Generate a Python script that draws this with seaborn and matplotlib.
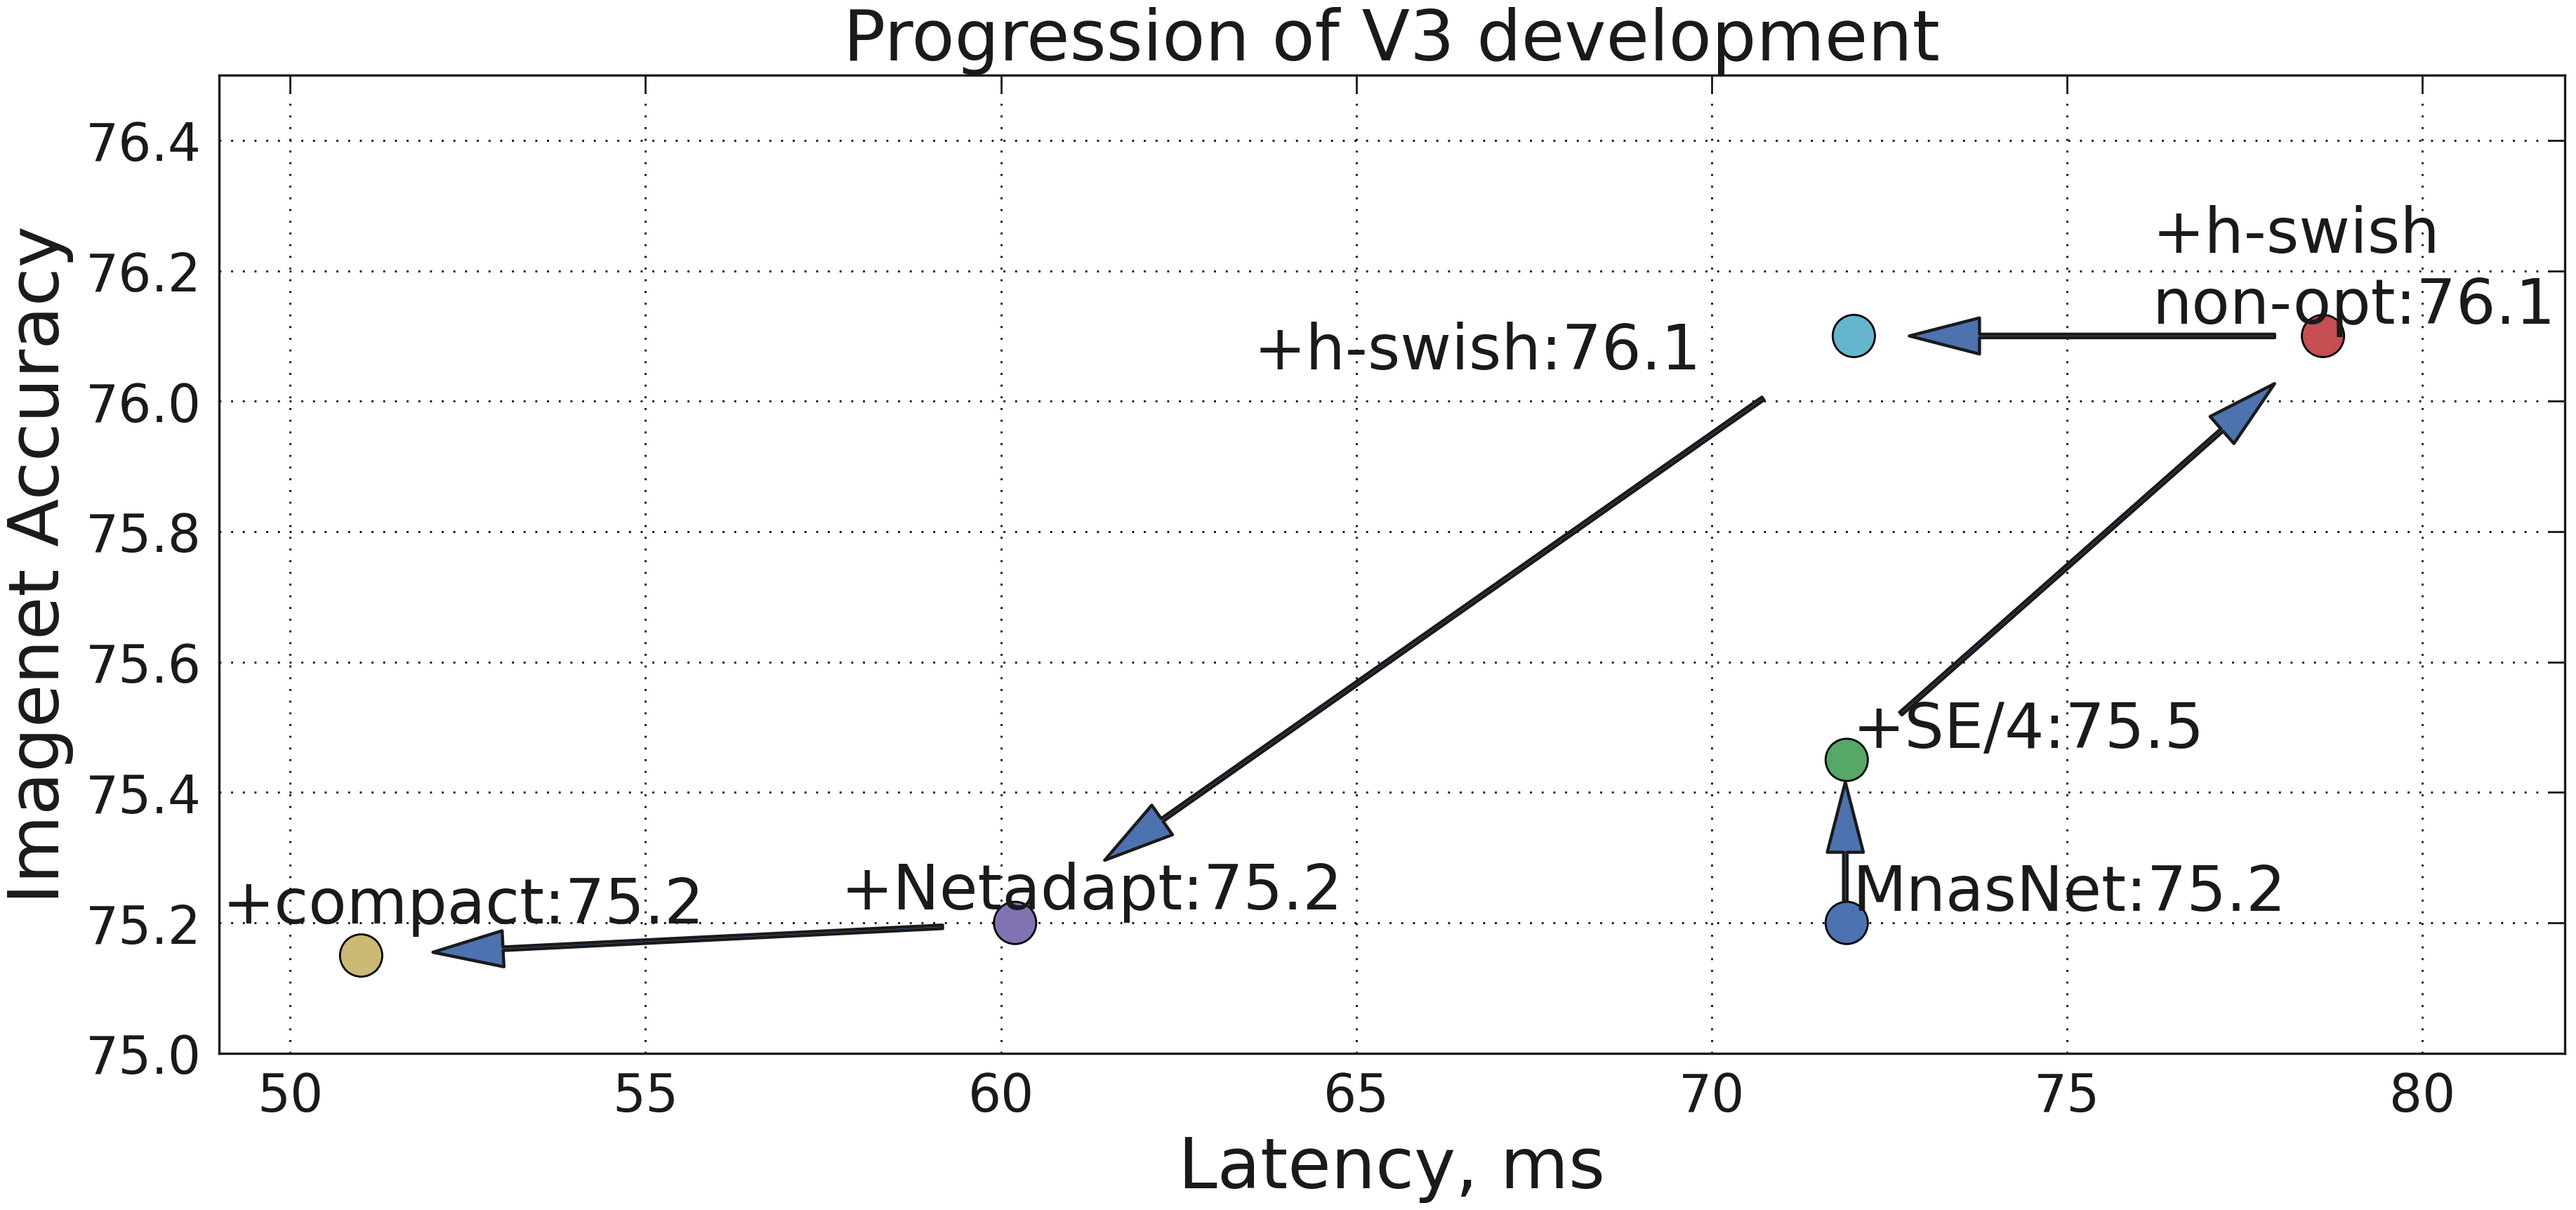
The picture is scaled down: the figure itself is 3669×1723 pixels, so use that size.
import matplotlib
matplotlib.use("Agg")
import matplotlib.pyplot as plt
import pandas as pd
import seaborn as sns

# model variants (order of the development path)
MODELS = ["MnasNet", "+SE/4", "+h-swish non-opt", "+h-swish", "+Netadapt", "+compact"]
LATENCY = [71.9, 71.9, 78.6, 72.0, 60.2, 51.0]
ACCURACY = [75.2, 75.45, 76.1, 76.1, 75.2, 75.15]
LABELS = ["MnasNet:75.2", "+SE/4:75.5", "+h-swish\nnon-opt:76.1", "+h-swish:76.1",
          "+Netadapt:75.2", "+compact:75.2"]
COLORS = ["#4C72B0", "#55A868", "#C44E52", "#64B5CD", "#8172B2", "#CCB974"]

# where the text labels sit (data coords, left/baseline)
LABEL_POS = [(71.98, 75.22), (71.98, 75.469), (76.2, 76.12), (63.56, 76.05),
             (57.75, 75.222), (49.05, 75.2)]

# arrows between steps: (tail_x, tail_y, tip_x, tip_y)
ARROWS = [
    (71.88, 75.233, 71.88, 75.416),
    (72.66, 75.521, 77.92, 76.027),
    (77.92, 76.10, 72.78, 76.10),
    (70.72, 76.004, 61.46, 75.296),
    (59.18, 75.194, 52.01, 75.155),
]

TEXT_COLOR = ".1"


def main():
    sns.set_style("white")
    plt.rcParams["font.family"] = ["DejaVu Sans"]

    df = pd.DataFrame({"model": MODELS, "latency": LATENCY, "accuracy": ACCURACY})

    fig = plt.figure(figsize=(18.345, 8.62), dpi=200)
    ax = fig.add_axes([0.085, 0.1294, 0.9106, 0.808])

    ax.grid(True, color="black", linestyle=(0, (1, 5)), linewidth=1.0)
    ax.set_axisbelow(True)

    sns.scatterplot(
        data=df, x="latency", y="accuracy", hue="model", palette=COLORS,
        s=470, edgecolor="black", linewidth=1.0, legend=False, ax=ax, zorder=3,
    )

    for (x0, y0, x1, y1) in ARROWS:
        ax.annotate(
            "", xy=(x1, y1), xytext=(x0, y0),
            arrowprops=dict(facecolor="#4C72B0", edgecolor=TEXT_COLOR, linewidth=1.6,
                            width=1.8, headwidth=18.5, headlength=36, shrink=0),
            zorder=4,
        )

    for label, (tx, ty) in zip(LABELS, LABEL_POS):
        ax.text(tx, ty, label, fontsize=32, color=TEXT_COLOR, ha="left",
                va="baseline", zorder=5, linespacing=1.2)

    ax.set_xlim(49, 82)
    ax.set_ylim(75.0, 76.5)
    yticks = [75.0, 75.2, 75.4, 75.6, 75.8, 76.0, 76.2, 76.4]
    ax.set_xticks([50, 55, 60, 65, 70, 75, 80])
    ax.set_yticks(yticks)
    ax.set_yticklabels([f"{v:.1f}" for v in yticks])
    ax.tick_params(axis="both", direction="in", length=8.5, width=1.0, labelsize=26.7,
                   colors=TEXT_COLOR, top=True, right=True, pad=9)
    for spine in ax.spines.values():
        spine.set_visible(True)
        spine.set_color(TEXT_COLOR)
        spine.set_linewidth(1.2)

    ax.set_xlabel("Latency, ms", fontsize=36, color=TEXT_COLOR, labelpad=6)
    ax.set_ylabel("Imagenet Accuracy", fontsize=36, color=TEXT_COLOR, labelpad=6)
    ax.set_title("Progression of V3 development", fontsize=36, color=TEXT_COLOR, pad=8)

    fig.savefig("out.png", dpi=200)


if __name__ == "__main__":
    main()
